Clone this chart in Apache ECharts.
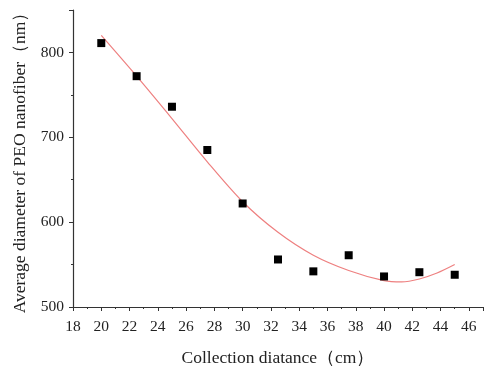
<!DOCTYPE html>
<html>
<head>
<meta charset="utf-8">
<script src="https://cdn.jsdelivr.net/npm/echarts@6/dist/echarts.min.js"></script>
<style>
  html, body { margin: 0; padding: 0; background: #fff; }
  #chart { width: 500px; height: 372px; }
</style>
</head>
<body>
<div id="chart"></div>
<script>
// measured points
const distance = [20, 22.5, 25, 27.5, 30, 32.5, 35, 37.5, 40, 42.5, 45];
const diameter = [811, 772, 736, 685, 622, 556, 542, 561, 536, 541, 538];

// fitted curve
const fitX = [20, 22.5, 25, 27.5, 30, 32.5, 35, 37.5, 40, 41.25, 42.5, 43.75, 45];
const fitY = [820, 772, 722, 671, 624, 588, 561, 543, 531, 529.5, 533, 540, 550];

const xTicks = [18, 47, 2];
const yTicks = [500, 850, 100];

const chart = echarts.init(document.getElementById('chart'));

const font = 'Liberation Serif';

chart.setOption({
  animation: false,
  grid: { left: 73, right: 17, top: 10, bottom: 62 },
  xAxis: {
    type: 'value',
    min: xTicks[0],
    max: xTicks[1],
    interval: xTicks[2],
    name: 'Collection diatance（cm）',
    nameLocation: 'middle',
    nameGap: 42,
    nameTextStyle: { fontFamily: font, fontSize: 17.5, color: '#222' },
    axisLine: { lineStyle: { color: '#333', width: 1.2 } },
    axisTick: { length: 4, lineStyle: { color: '#333' } },
    minorTick: { show: true, splitNumber: 2, length: 2, lineStyle: { color: '#333' } },
    axisLabel: { fontFamily: font, fontSize: 15.5, color: '#222', margin: 12, showMaxLabel: false },
    splitLine: { show: false }
  },
  yAxis: {
    type: 'value',
    min: yTicks[0],
    max: yTicks[1],
    interval: yTicks[2],
    name: 'Average diameter of PEO nanofiber（nm）',
    nameLocation: 'middle',
    nameGap: 38,
    nameTextStyle: { fontFamily: font, fontSize: 17.5, color: '#222' },
    axisLine: { show: true, lineStyle: { color: '#333', width: 1.2 } },
    axisTick: { show: true, length: 4, lineStyle: { color: '#333' } },
    minorTick: { show: true, splitNumber: 2, length: 2, lineStyle: { color: '#333' } },
    axisLabel: { fontFamily: font, fontSize: 15.5, color: '#222', margin: 9, showMaxLabel: false },
    splitLine: { show: false }
  },
  series: [
    {
      type: 'line',
      data: fitX.map((x, i) => [x, fitY[i]]),
      smooth: 0.3,
      showSymbol: false,
      lineStyle: { color: '#ee8080', width: 1.2 },
      z: 1
    },
    {
      type: 'scatter',
      data: distance.map((x, i) => [x, diameter[i]]),
      symbol: 'rect',
      symbolSize: 8,
      itemStyle: { color: '#000', opacity: 1 },
      z: 2
    }
  ]
});
</script>
</body>
</html>
